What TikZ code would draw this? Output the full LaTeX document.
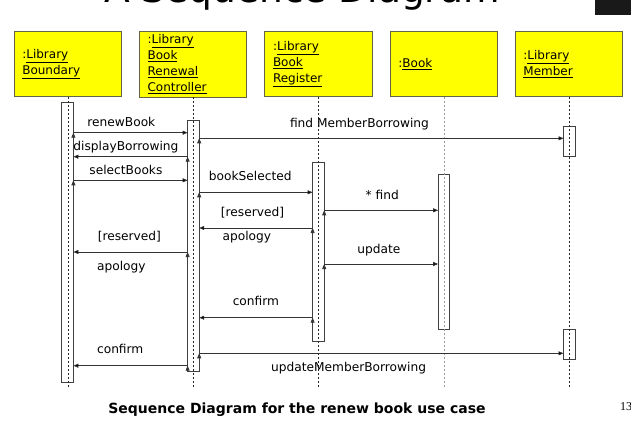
\documentclass[tikz,border=0pt]{standalone}
\usepackage{fontspec}
\setmainfont{DejaVu Sans}
\newfontfamily\pagefont{Liberation Serif}
\usetikzlibrary{arrows.meta}

\definecolor{headyellow}{RGB}{255,255,0}
\definecolor{headborder}{RGB}{100,100,70}

\tikzset{
  head/.style={draw=headborder, line width=0.8pt, fill=headyellow, minimum width=107.4pt,
    minimum height=65.4pt, text width=91pt, inner xsep=8pt, align=left,
    font=\fontsize{12}{16}\selectfont},
  act/.style={draw=black!75, line width=0.8pt, fill=white, minimum width=11.6pt,
    inner sep=0pt, outer sep=0pt},
  life/.style={draw=black!85, line width=0.6pt, dash pattern=on 2pt off 2pt},
  msg/.style={draw=black!80, line width=0.7pt, -{Triangle[length=5pt,width=4pt]}},
  lbl/.style={font=\fontsize{12.2}{14}\selectfont, text height=8.8pt, text depth=2.6pt, inner sep=3pt},
}

\begin{document}
\begin{tikzpicture}[x=1pt, y=-1pt]
    \useasboundingbox (0,0) rectangle (631,428);
    \clip (0,0) rectangle (631,428);

    % slide title (cut off at the top) and corner
    \node[anchor=base east, inner sep=0pt, font=\fontsize{37.5}{38}\selectfont] (title) at (500,3) {A Sequence Diagram};
    \fill[black!90] (595,0) rectangle (631,15.3);

    % objects
    \node[head] (h1) at (67.8,64) {:\underline{Library}\\\underline{Boundary}};
    \node[head] (h2) at (193.1,64) {:\underline{Library}\\\underline{Book}\\\underline{Renewal}\\\underline{Controller}};
    \node[head] (h3) at (318.5,64) {:\underline{Library}\\\underline{Book}\\\underline{Register}};
    \node[head] (h4) at (443.9,64) {:\underline{Book}};
    \node[head] (h5) at (568.9,64) {:\underline{Library}\\\underline{Member}};

    % activations
    \node[act, minimum height=280pt] (act1) at (67.6,242.7) {};
    \node[act, minimum height=250.3pt] (act2) at (193.4,245.85) {};
    \node[act, minimum height=178.7pt] (act3) at (318.4,251.65) {};
    \node[act, minimum height=155.3pt] (act4) at (443.9,251.65) {};
    \node[act, minimum height=30pt] (act5a) at (569.3,141.3) {};
    \node[act, minimum height=30pt] (act5b) at (569.3,344.3) {};

    % lifelines
    \draw[life] (h1.south) -- (h1.south |- 0,388);
    \draw[life] (h2.south) -- (h2.south |- 0,388);
    \draw[life] (h3.south) -- (h3.south |- 0,388);
    \draw[life, draw=black!40] (h4.south) -- (h4.south |- 0,388);
    \draw[life] (h5.south) -- (h5.south |- 0,388);

    % messages
    \path[msg] (act1.east |- 0,132.7) edge node[lbl, above, pos=.42] {renewBook} (act2.west |- 0,132.7);
    \path[msg] (act2.east |- 0,138.3) edge node[lbl, above=5pt, pos=.44] {find MemberBorrowing} (act5a.west |- 0,138.3);
    \path[msg] (act2.west |- 0,156.7) edge node[lbl, above, pos=.54] {displayBorrowing} (act1.east |- 0,156.7);
    \path[msg] (act1.east |- 0,180.3) edge node[lbl, above, pos=.46] {selectBooks} (act2.west |- 0,180.3);
    \path[msg] (act2.east |- 0,192.3) edge node[lbl, above=6pt, pos=.45] {bookSelected} (act3.west |- 0,192.3);
    \path[msg] (act3.east |- 0,210.3) edge node[lbl, above=5pt, pos=.51] {* find} (act4.west |- 0,210.3);
    \path[msg] (act3.west |- 0,228) edge node[lbl, above=6pt, pos=.53] {[reserved]}
        node[lbl, below, pos=.58] {apology} (act2.east |- 0,228);
    \path[msg] (act2.west |- 0,252) edge node[lbl, above=6pt, pos=.51] {[reserved]}
        node[lbl, below=6pt, pos=.58] {apology} (act1.east |- 0,252);
    \path[msg] (act3.east |- 0,264) edge node[lbl, above=5pt, pos=.48] {update} (act4.west |- 0,264);
    \path[msg] (act3.west |- 0,317.7) edge node[lbl, above=6pt, pos=.50] {confirm} (act2.east |- 0,317.7);
    \path[msg] (act2.east |- 0,353.3) edge node[lbl, below=6pt, pos=.41] {updateMemberBorrowing} (act5b.west |- 0,353.3);
    \path[msg] (act2.west |- 0,365.7) edge node[lbl, above=6pt, pos=.59] {confirm} (act1.east |- 0,365.7);

    % caption and page number
    \node[font=\bfseries\fontsize{14}{16}\selectfont] (caption) at (297,410) {Sequence Diagram for the renew book use case};
    \node[anchor=base west, inner sep=0pt, font=\pagefont\fontsize{12}{12}\selectfont] (pageno) at (620,410) {13};
\end{tikzpicture}
\end{document}
